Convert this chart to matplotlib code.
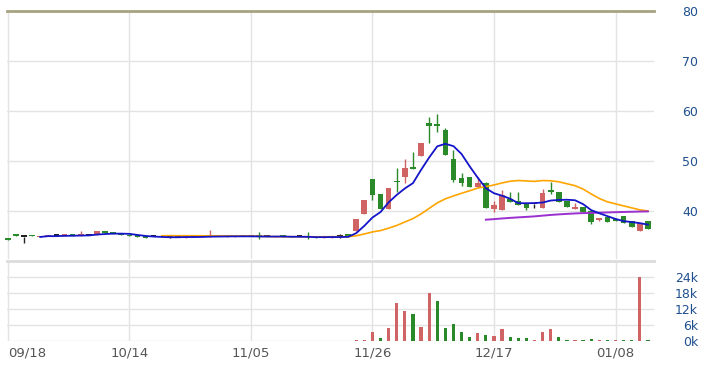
import numpy as np
import pandas as pd
import matplotlib.pyplot as plt

# daily candles, one entry per trading day
opens = [34.4, 35.2, 34.8, 35.1, 34.7, 34.9, 35.0, 35.0, 35.1, 35.0,
         35.1, 35.1, 35.9, 35.6, 35.4, 35.2, 35.0, 34.9, 34.8, 34.8,
         34.6, 34.8, 34.6, 34.8, 34.8, 34.7, 34.9, 34.7, 34.7, 34.8,
         34.9, 35.0, 34.8, 34.7, 35.0, 34.9, 34.8, 34.9, 34.8, 34.6,
         34.6, 34.8, 35.3, 36.0, 39.3, 46.3, 43.3, 40.3, 46.0, 46.8,
         48.7, 51.0, 57.5, 57.4, 56.1, 50.3, 46.5, 46.7, 44.8, 45.5,
         40.3, 40.1, 42.3, 41.9, 41.6, 41.3, 40.5, 44.1, 43.8, 42.0,
         40.3, 40.7, 40.0, 38.1, 38.8, 38.2, 39.0, 37.9, 36.0, 38.0]
closes = [34.2, 35.0, 34.8, 34.9, 34.9, 35.0, 35.0, 35.1, 35.0, 35.1,
          35.1, 35.9, 35.6, 35.4, 35.1, 34.9, 34.8, 34.6, 34.8, 34.7,
          34.6, 34.8, 34.8, 34.8, 34.8, 34.9, 34.9, 34.9, 34.9, 34.8,
          34.9, 34.8, 34.8, 34.9, 34.8, 34.7, 34.8, 34.7, 34.6, 34.8,
          34.8, 34.8, 34.9, 38.3, 42.1, 43.1, 40.3, 44.6, 45.7, 48.6,
          48.4, 53.5, 57.0, 56.9, 51.1, 46.1, 45.6, 44.7, 45.5, 40.6,
          41.1, 43.1, 41.7, 41.1, 40.5, 41.3, 43.6, 43.7, 41.7, 40.7,
          40.8, 39.7, 37.7, 38.6, 37.8, 38.0, 37.5, 36.8, 37.5, 36.3]
highs = [34.4, 35.2, 34.8, 35.1, 34.9, 35.0, 35.0, 35.1, 35.1, 36.0,
         35.1, 35.9, 35.9, 35.6, 35.4, 35.2, 35.0, 34.9, 34.8, 34.8,
         34.9, 34.8, 34.8, 34.8, 34.8, 36.1, 34.9, 34.9, 34.9, 34.8,
         34.9, 35.7, 34.8, 34.9, 35.0, 34.9, 34.8, 35.7, 34.8, 34.8,
         34.8, 35.3, 35.3, 38.3, 42.1, 46.3, 43.3, 44.6, 48.6, 50.3,
         51.8, 53.5, 58.8, 59.3, 56.5, 52.1, 47.5, 46.7, 46.8, 45.8,
         41.9, 44.1, 43.8, 43.8, 41.6, 41.3, 44.3, 45.8, 43.8, 42.0,
         41.5, 40.7, 40.0, 38.6, 38.8, 38.2, 39.0, 37.9, 37.5, 38.0]
lows = [34.2, 35.0, 33.6, 34.9, 34.7, 34.9, 35.0, 35.0, 35.0, 35.0,
        35.1, 35.1, 35.6, 35.4, 35.1, 34.9, 34.8, 34.6, 34.8, 34.7,
        34.6, 34.8, 34.6, 34.8, 34.8, 34.7, 34.9, 34.7, 34.7, 34.8,
        34.9, 34.3, 34.8, 34.7, 34.8, 34.7, 34.8, 34.4, 34.6, 34.6,
        34.6, 34.5, 34.8, 36.0, 39.3, 42.1, 40.3, 40.3, 43.8, 45.5,
        48.3, 51.0, 53.5, 55.8, 51.1, 45.8, 45.0, 44.7, 44.8, 40.6,
        39.8, 40.1, 41.7, 41.1, 40.1, 40.5, 40.5, 43.3, 41.7, 40.7,
        40.3, 39.7, 37.3, 37.9, 37.8, 38.0, 37.5, 36.8, 36.0, 36.3]
volumes = [0] * 43 + [300, 300, 3400, 1000, 4800, 14000, 11300, 9900, 5300, 17900,
                      15000, 4800, 6100, 3200, 1400, 2800, 2300, 1800, 4300, 1400,
                      900, 900, 300, 3200, 4300, 1400, 200, 100, 200, 600,
                      200, 300, 100, 200, 100, 23900, 100]
date_labels = ['09/18', '10/14', '11/05', '11/26', '12/17', '01/08']
price_ticks = [40, 50, 60, 70, 80]
volume_ticks = [0, 6000, 12000, 18000, 24000]

up_col = '#d06464'
down_col = '#2a8a2a'
flat_col = '#222222'
grid_col = '#e3e3e3'
label_blue = '#1f4f8f'

o = np.array(opens)
c = np.array(closes)
h = np.array(highs)
l = np.array(lows)
idx = np.arange(len(c))

candle_cols = np.where(c > o, up_col, np.where(c < o, down_col, flat_col))
prev_c = np.concatenate([[o[0]], c[:-1]])
vol_cols = np.where(c > prev_c, up_col, np.where(c < prev_c, down_col, flat_col))

s = pd.Series(c)
ma5 = s.rolling(5).mean()
ma20 = s.rolling(20).mean()
ma60 = s.rolling(60).mean()

fig = plt.figure(figsize=(7.08, 3.70), dpi=100)
left = 7 / 708
width = (654 - 7) / 708
ax = fig.add_axes([left, 0.3, width, 0.9711 - 0.3])
axv = fig.add_axes([left, 1 - 340.7 / 370, width, (340.7 - 260.7) / 370], sharex=ax)

# price panel
ax.vlines(idx, l, h, colors=candle_cols, lw=1, zorder=2, clip_on=False)
ax.bar(idx, np.maximum(np.abs(c - o), 0.25), bottom=np.minimum(o, c), width=0.7,
       color=candle_cols, zorder=3, clip_on=False)
ax.plot(idx, ma20, color='#ffa500', lw=1.2, zorder=4)
ax.plot(idx, ma60, color='#9b30d0', lw=1.4, zorder=4)
ax.plot(idx, ma5, color='#1414c8', lw=1.3, zorder=5)
ax.axhline(80, color='#a6a282', lw=2, clip_on=False, zorder=1)

ax.set_xlim(-0.1, 79.75)
ax.set_ylim(30.35, 80)
ax.set_xticks(range(0, len(c), 15))
ax.set_yticks(price_ticks)
ax.grid(True, color=grid_col, lw=1, zorder=0)
ax.set_axisbelow(True)
for sp in ax.spines.values():
    sp.set_visible(False)
ax.yaxis.tick_right()
ax.tick_params(axis='y', length=0, pad=31.7, labelsize=9, labelcolor=label_blue)
ax.tick_params(axis='x', length=0, labelbottom=False)
for t in ax.yaxis.get_major_ticks():
    t.label2.set_horizontalalignment('right')

# volume panel
axv.bar(idx, volumes, width=0.4, color=vol_cols, zorder=3)
axv.set_ylim(0, 30000)
axv.set_yticks(volume_ticks)
axv.set_yticklabels([f'{v // 1000}k' for v in volume_ticks])
axv.grid(True, color=grid_col, lw=1, zorder=0)
axv.set_axisbelow(True)
for sp in axv.spines.values():
    sp.set_visible(False)
axv.spines['top'].set_visible(True)
axv.spines['top'].set_color('#dcdcdc')
axv.spines['top'].set_linewidth(2)
axv.yaxis.tick_right()
axv.tick_params(axis='y', length=0, pad=31.7, labelsize=9, labelcolor=label_blue)
for t in axv.yaxis.get_major_ticks():
    t.label2.set_horizontalalignment('right')

axv.set_xticks(range(0, len(c), 15))
axv.set_xticklabels(date_labels)
axv.tick_params(axis='x', length=0, pad=4, labelsize=9.5, labelcolor='#555555')
axv.get_xticklabels()[0].set_horizontalalignment('left')

fig.savefig('out.png', dpi=100)
